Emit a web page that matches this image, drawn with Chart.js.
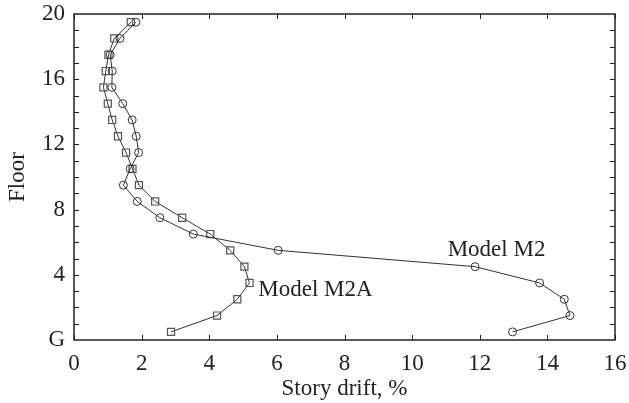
<!DOCTYPE html>
<html>
<head>
<meta charset="utf-8">
<script src="https://cdn.jsdelivr.net/npm/chart.js@4"></script>
<style>
	html, body { margin: 0; padding: 0; background: #fff; }
	#wrap { width: 629px; height: 403px; }
</style>
</head>
<body>
<div id="wrap"><canvas id="driftChart" width="629" height="403"></canvas></div>
<script>
// floors at mid-storey height, G = 0
const floors = [0.5, 1.5, 2.5, 3.5, 4.5, 5.5, 6.5, 7.5, 8.5, 9.5, 10.5, 11.5, 12.5, 13.5, 14.5, 15.5, 16.5, 17.5, 18.5, 19.5];
const driftM2 = [12.97, 14.67, 14.5, 13.77, 11.86, 6.04, 3.53, 2.54, 1.87, 1.46, 1.66, 1.91, 1.84, 1.72, 1.44, 1.12, 1.13, 1.07, 1.36, 1.83];
const driftM2A = [2.87, 4.23, 4.83, 5.19, 5.04, 4.62, 4.03, 3.2, 2.4, 1.92, 1.73, 1.54, 1.3, 1.13, 1.0, 0.87, 0.94, 1.02, 1.19, 1.68];
const xTicks = [0, 2, 4, 6, 8, 10, 12, 14, 16];
const yLabels = { 0: "G", 4: "4", 8: "8", 12: "12", 16: "16", 20: "20" };
const notes = [
	{ text: "Model M2", x: 11.05, y: 5.55 },
	{ text: "Model M2A", x: 5.45, y: 3.05 },
];

const serif = "'Liberation Serif', 'Times New Roman', serif";
const ink = "#222";
const lineColor = "#333";

function toPoints(values) {
	return values.map((v, i) => ({ x: v, y: floors[i] }));
}

// frame + inward ticks on all four sides, plus the two model labels
const framePlugin = {
	id: "frame",
	afterDraw(chart) {
		const { ctx, chartArea: a, scales } = chart;
		const xs = scales.x;
		const ys = scales.y;
		const len = 5;
		ctx.save();
		ctx.strokeStyle = "#222";
		ctx.lineWidth = 1.5;
		ctx.strokeRect(a.left, a.top, a.right - a.left, a.bottom - a.top);
		ctx.lineWidth = 1;
		ctx.beginPath();
		for (const t of xTicks) {
			const px = Math.round(xs.getPixelForValue(t)) + 0.5;
			ctx.moveTo(px, a.bottom);
			ctx.lineTo(px, a.bottom - len);
			ctx.moveTo(px, a.top);
			ctx.lineTo(px, a.top + len);
		}
		for (let f = 1; f < 20; f++) {
			const py = Math.round(ys.getPixelForValue(f)) + 0.5;
			ctx.moveTo(a.left, py);
			ctx.lineTo(a.left + len, py);
			ctx.moveTo(a.right, py);
			ctx.lineTo(a.right - len, py);
		}
		ctx.stroke();

		ctx.fillStyle = ink;
		ctx.font = "23px " + serif;
		ctx.textAlign = "left";
		ctx.textBaseline = "middle";
		for (const n of notes) {
			ctx.fillText(n.text, xs.getPixelForValue(n.x), ys.getPixelForValue(n.y));
		}
		ctx.restore();
	},
};

new Chart(document.getElementById("driftChart"), {
	type: "scatter",
	data: {
		datasets: [
			{
				label: "Model M2",
				data: toPoints(driftM2),
				showLine: true,
				borderColor: lineColor,
				borderWidth: 1,
				pointStyle: "circle",
				pointRadius: 4,
				pointBorderColor: "#333",
				pointBackgroundColor: "rgba(0,0,0,0)",
				pointBorderWidth: 1,
			},
			{
				label: "Model M2A",
				data: toPoints(driftM2A),
				showLine: true,
				borderColor: lineColor,
				borderWidth: 1,
				pointStyle: "rect",
				pointRadius: 5,
				pointBorderColor: "#555",
				pointBackgroundColor: "rgba(0,0,0,0)",
				pointBorderWidth: 1.2,
			},
		],
	},
	options: {
		responsive: false,
		animation: false,
		layout: { padding: { top: 14, right: 14, left: 0, bottom: 0 } },
		plugins: {
			legend: { display: false },
			tooltip: { enabled: false },
		},
		scales: {
			x: {
				type: "linear",
				min: 0,
				max: 16,
				afterFit: (scale) => {
					scale.height = 63;
					scale.paddingLeft = 0;
					scale.paddingRight = 0;
				},
				afterBuildTicks: (scale) => { scale.ticks = xTicks.map((v) => ({ value: v })); },
				grid: { display: false, drawTicks: false },
				border: { display: false },
				ticks: {
					color: ink,
					padding: 10,
					font: { family: serif, size: 23 },
					maxRotation: 0,
				},
				title: {
					display: true,
					text: "Story drift, %",
					color: ink,
					font: { family: serif, size: 23 },
					padding: { top: 0, bottom: 0 },
				},
			},
			y: {
				type: "linear",
				min: 0,
				max: 20,
				afterFit: (scale) => {
					scale.width = 74;
					scale.paddingTop = 0;
					scale.paddingBottom = 0;
				},
				afterBuildTicks: (scale) => {
					scale.ticks = Object.keys(yLabels).map((v) => ({ value: Number(v) }));
				},
				grid: { display: false, drawTicks: false },
				border: { display: false },
				ticks: {
					color: ink,
					padding: 9,
					font: { family: serif, size: 23 },
					callback: (value) => yLabels[value] ?? "",
				},
				title: {
					display: true,
					text: "Floor",
					color: ink,
					font: { family: serif, size: 23 },
					padding: { top: 4, bottom: 0 },
				},
			},
		},
	},
	plugins: [framePlugin],
});
</script>
</body>
</html>
